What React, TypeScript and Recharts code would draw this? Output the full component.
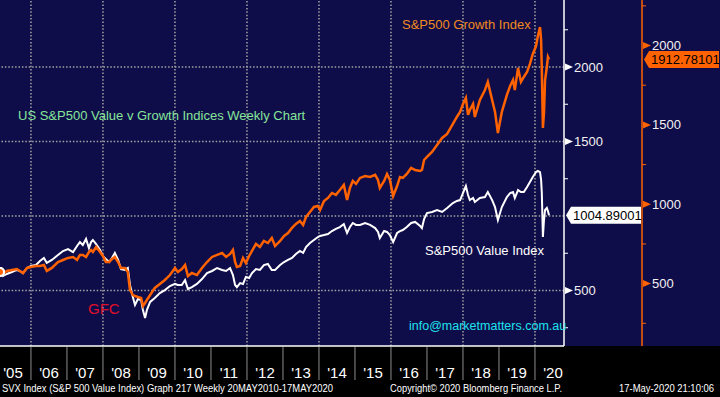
import React from "react";
import { ComposedChart, Line, XAxis, YAxis, ReferenceLine } from "recharts";

// decimal years (weekly chart, sampled by eye)
const dates = [
  2005.14, 2005.22, 2005.33, 2005.47, 2005.61, 2005.69, 2005.78, 2005.89, 2006.0, 2006.14,
  2006.25, 2006.36, 2006.44, 2006.58, 2006.75, 2006.89, 2007.03, 2007.17, 2007.28, 2007.36,
  2007.44, 2007.53, 2007.61, 2007.67, 2007.72, 2007.81, 2007.92, 2008.0, 2008.08, 2008.17,
  2008.25, 2008.33, 2008.42, 2008.5, 2008.61, 2008.69, 2008.75, 2008.83, 2008.89, 2008.97,
  2009.06, 2009.11, 2009.17, 2009.22, 2009.31, 2009.44, 2009.58, 2009.72, 2009.86, 2010.0,
  2010.08, 2010.19, 2010.28, 2010.36, 2010.47, 2010.61, 2010.75, 2010.89, 2011.03, 2011.17,
  2011.31, 2011.42, 2011.53, 2011.61, 2011.67, 2011.72, 2011.81, 2011.89, 2011.97, 2012.06,
  2012.14, 2012.25, 2012.36, 2012.47, 2012.58, 2012.69, 2012.78, 2012.92, 2013.03, 2013.14,
  2013.25, 2013.36, 2013.47, 2013.56, 2013.64, 2013.75, 2013.86, 2013.97, 2014.03, 2014.14,
  2014.25, 2014.36, 2014.47, 2014.58, 2014.69, 2014.78, 2014.86, 2014.94, 2015.03, 2015.14,
  2015.28, 2015.42, 2015.56, 2015.64, 2015.69, 2015.81, 2015.89, 2015.97, 2016.06, 2016.17,
  2016.25, 2016.33, 2016.44, 2016.56, 2016.67, 2016.81, 2016.86, 2016.92, 2017.0, 2017.14,
  2017.28, 2017.42, 2017.56, 2017.72, 2017.83, 2017.92, 2018.0, 2018.08, 2018.14, 2018.19,
  2018.28, 2018.33, 2018.47, 2018.61, 2018.69, 2018.81, 2018.89, 2018.97, 2019.08, 2019.22,
  2019.31, 2019.39, 2019.44, 2019.53, 2019.61, 2019.69, 2019.78, 2019.86, 2019.94, 2020.03,
  2020.08, 2020.14, 2020.17, 2020.19, 2020.22, 2020.25, 2020.28, 2020.33, 2020.36, 2020.39,
];

// S&P500 Value Index (SVX), white scale
const valueIndex = [
  624, 597, 611, 624, 638, 631, 617, 651, 664, 671,
  698, 718, 685, 705, 738, 765, 778, 758, 799, 825,
  805, 846, 785, 825, 839, 812, 772, 731, 711, 691,
  718, 752, 705, 644, 638, 651, 537, 456, 403, 443,
  436, 369, 315, 369, 423, 450, 483, 503, 530, 544,
  537, 537, 570, 510, 523, 544, 577, 617, 631, 651,
  638, 631, 651, 604, 537, 523, 550, 544, 591, 584,
  617, 644, 638, 671, 678, 638, 638, 671, 691, 705,
  718, 745, 765, 752, 792, 819, 839, 859, 866, 872,
  879, 899, 913, 926, 946, 886, 926, 953, 940, 940,
  953, 940, 919, 893, 852, 899, 893, 872, 825, 886,
  899, 906, 926, 953, 960, 933, 919, 980, 1020, 1027,
  1040, 1027, 1054, 1087, 1101, 1107, 1154, 1201, 1141, 1107,
  1121, 1094, 1121, 1127, 1161, 1107, 1060, 973, 1060, 1127,
  1154, 1161, 1121, 1174, 1161, 1161, 1195, 1228, 1262, 1295,
  1302, 1295, 1242, 1154, 859, 973, 1040, 1054, 1033, 1004.89001,
];

// S&P500 Growth Index, orange scale
const growthIndex = [
  573, 561, 580, 586, 592, 580, 567, 599, 605, 611,
  611, 617, 580, 599, 636, 649, 662, 668, 649, 681,
  681, 668, 699, 712, 699, 731, 699, 674, 636, 636,
  655, 668, 636, 599, 599, 573, 460, 428, 422, 416,
  410, 359, 378, 397, 428, 473, 498, 523, 554, 599,
  573, 592, 617, 548, 567, 554, 599, 636, 668, 681,
  693, 668, 687, 712, 636, 605, 611, 662, 630, 674,
  706, 750, 731, 769, 756, 788, 737, 769, 800, 819,
  851, 876, 895, 870, 920, 951, 983, 989, 964, 1021,
  1040, 1071, 1059, 1090, 1122, 1027, 1103, 1147, 1128, 1166,
  1178, 1172, 1185, 1153, 1103, 1147, 1191, 1153, 1052, 1115,
  1172, 1166, 1191, 1229, 1216, 1210, 1216, 1279, 1298, 1330,
  1374, 1418, 1443, 1506, 1550, 1582, 1632, 1670, 1563, 1594,
  1632, 1550, 1657, 1720, 1771, 1657, 1582, 1449, 1582, 1689,
  1745, 1783, 1720, 1859, 1771, 1802, 1834, 1884, 1947, 1997,
  2060, 2117, 2035, 1846, 1481, 1575, 1783, 1865, 1928, 1912.78101,
];

const yearBoundaries = [2006, 2007, 2008, 2009, 2010, 2011, 2012, 2013, 2014, 2015, 2016, 2017, 2018, 2019, 2020];
const yearLabelTicks = [2005.5, 2006.5, 2007.5, 2008.5, 2009.5, 2010.5, 2011.5, 2012.5, 2013.5, 2014.5, 2015.5, 2016.5, 2017.5, 2018.5, 2019.5, 2020.5];
const gridYears = [2006, 2008, 2010, 2012, 2014, 2016, 2018, 2020];
const gridLevels = [500, 1000, 1500, 2000];
const axisTicks = [250, 500, 750, 1000, 1250, 1500, 1750, 2000, 2250];

const lastValue = valueIndex[valueIndex.length - 1];
const lastGrowth = growthIndex[growthIndex.length - 1];

const data = dates.map((t, i) => ({ t, value: valueIndex[i], growth: growthIndex[i] }));

const NAVY = "#0f0d49";
const ORANGE = "#ff6200";
const FONT = "'Liberation Sans', Arial, sans-serif";
const GRID = "#a3a3a3";

const YearTick = (props: any) => {
  const { x, y, payload } = props;
  const v = payload.value;
  if (Number.isInteger(v)) {
    return <line x1={x} x2={x} y1={y + 1} y2={y + 34} stroke="#8d8d8d" strokeWidth={1} />;
  }
  return (
    <text x={x} y={y + 32} textAnchor="middle" fill="#ffffff" fontSize={15} fontFamily={FONT}>
      {"'" + String(Math.floor(v)).slice(2)}
    </text>
  );
};

const makeAxisTick = (color: string, last: number, boxFill: string) => (props: any) => {
  const { x, y, payload } = props;
  const v = payload.value;
  if (v === last) {
    return (
      <g>
        <polygon
          points={`${x + 2},${y} ${x + 7},${y - 8.5} ${x + 77},${y - 8.5} ${x + 77},${y + 8.5} ${x + 7},${y + 8.5}`}
          fill={boxFill}
        />
        <text x={x + 9} y={y + 4.5} fill="#000" fontSize={13} fontFamily={FONT}>
          {last.toFixed(5)}
        </text>
      </g>
    );
  }
  if (v % 500 === 0) {
    // the last-price flag hides a label it sits on
    if (Math.abs(v - last) < 60) return <g />;
    return (
      <g>
        <polygon points={`${x + 1},${y - 3.5} ${x + 9},${y} ${x + 1},${y + 3.5}`} fill={color} />
        <text x={x + 10} y={y + 4.5} fill="#f2f2f2" fontSize={13} fontFamily={FONT}>
          {v}
        </text>
      </g>
    );
  }
  return <line x1={x} x2={x + 4} y1={y} y2={y} stroke={color} strokeWidth={1} />;
};

const ValueTick = makeAxisTick("#ffffff", lastValue, "#ffffff");
const GrowthTick = makeAxisTick(ORANGE, lastGrowth, ORANGE);

export default function App() {
  return (
    <div style={{ position: "absolute", left: 0, top: 0, width: 720, height: 397, background: "#000", overflow: "hidden" }}>
      <div style={{ position: "absolute", left: 0, top: 0, width: 720, height: 346, background: NAVY }} />
      <div style={{ position: "absolute", left: 0, top: 0 }}>
        <ComposedChart width={720} height={397} data={data} margin={{ top: 0, right: 0, bottom: 0, left: 0 }}>
          <XAxis
            dataKey="t"
            type="number"
            domain={[2005.14, 2020.806]}
            allowDataOverflow
            ticks={[...yearBoundaries, ...yearLabelTicks]}
            interval={0}
            height={51}
            tickSize={0}
            tickMargin={0}
            tickLine={false}
            axisLine={{ stroke: "#ffffff", strokeWidth: 1.5 }}
            tick={YearTick}
          />
          <YAxis
            yAxisId="b"
            orientation="right"
            type="number"
            domain={[107, 2287]}
            allowDataOverflow
            ticks={[...axisTicks, lastGrowth]}
            interval={0}
            width={78}
            tickSize={0}
            tickMargin={0}
            tickLine={false}
            axisLine={{ stroke: ORANGE, strokeWidth: 1.5 }}
            tick={GrowthTick}
          />
          <YAxis
            yAxisId="a"
            orientation="right"
            type="number"
            domain={[127.5, 2449.7]}
            allowDataOverflow
            ticks={[...axisTicks, lastValue]}
            interval={0}
            width={78}
            tickSize={0}
            tickMargin={0}
            tickLine={false}
            axisLine={{ stroke: "#ffffff", strokeWidth: 1.5 }}
            tick={ValueTick}
          />
          {gridYears.map((yr) => (
            <ReferenceLine key={"x" + yr} x={yr} yAxisId="a" stroke={GRID} strokeWidth={1.5} strokeDasharray="1.5 1.9" />
          ))}
          {gridLevels.map((lv) => (
            <ReferenceLine key={"y" + lv} y={lv} yAxisId="a" stroke={GRID} strokeWidth={1.5} strokeDasharray="1.5 1.9" />
          ))}
          <Line
            yAxisId="a"
            dataKey="value"
            type="linear"
            stroke="#ffffff"
            strokeWidth={2}
            dot={false}
            isAnimationActive={false}
          />
          <Line
            yAxisId="b"
            dataKey="growth"
            type="linear"
            stroke={ORANGE}
            strokeWidth={2.5}
            dot={false}
            isAnimationActive={false}
          />
        </ComposedChart>
      </div>
      <svg width={720} height={397} style={{ position: "absolute", left: 0, top: 0, pointerEvents: "none" }}>
        <text x={18} y={120} fill="#86e59a" fontSize={13} fontFamily={FONT}>
          US S&amp;P500 Value v Growth Indices Weekly Chart
        </text>
        <text x={402} y={29} fill="#f0891f" fontSize={13} fontFamily={FONT}>
          S&amp;P500 Growth Index
        </text>
        <text x={425} y={255} fill="#ffffff" fontSize={13} fontFamily={FONT}>
          S&amp;P500 Value Index
        </text>
        <text x={88} y={314} fill="#e0102a" fontSize={15} fontFamily={FONT}>
          GFC
        </text>
        <text x={409} y={330} fill="#1ee3f0" fontSize={12.5} fontFamily={FONT}>
          info@marketmatters.com.au
        </text>
        <text x={2} y={392} fill="#ffffff" fontSize={10} fontFamily={FONT} textLength={331} lengthAdjust="spacingAndGlyphs">
          SVX Index (S&amp;P 500 Value Index) Graph 217  Weekly 20MAY2010-17MAY2020
        </text>
        <text x={390} y={392} fill="#ffffff" fontSize={10} fontFamily={FONT} textLength={172} lengthAdjust="spacingAndGlyphs">
          Copyright© 2020 Bloomberg Finance L.P.
        </text>
        <text x={619} y={392} fill="#ffffff" fontSize={10} fontFamily={FONT} textLength={95} lengthAdjust="spacingAndGlyphs">
          17-May-2020 21:10:06
        </text>
      </svg>
    </div>
  );
}
